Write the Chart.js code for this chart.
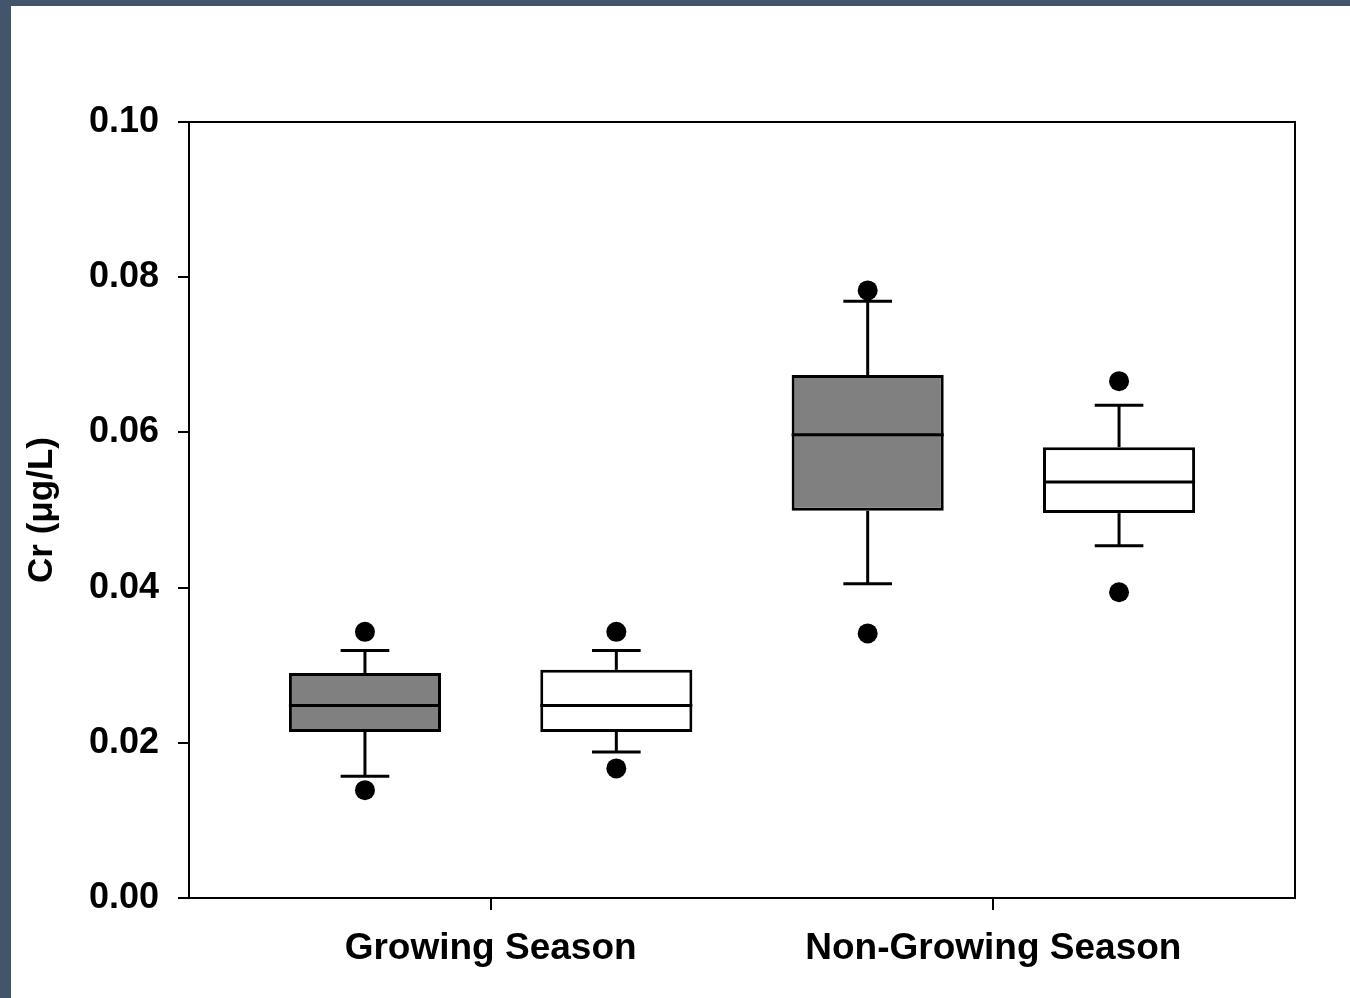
<!DOCTYPE html>
<html>
<head>
<meta charset="utf-8">
<script src="https://cdn.jsdelivr.net/npm/chart.js@4"></script>
<style>
  html, body { margin: 0; padding: 0; width: 1350px; height: 998px; overflow: hidden; background: #44546a; }
  #wrap { position: absolute; left: 11px; top: 6px; width: 1339px; height: 992px; background: #ffffff; }
  canvas { display: block; }
</style>
</head>
<body>
<div id="wrap"><canvas id="c" width="1339" height="992"></canvas></div>
<script>
// ---- data ----
const categories = ['Growing Season', 'Non-Growing Season'];
const categoryPositions = [1, 2];
const yTicks = [0, 0.02, 0.04, 0.06, 0.08, 0.10];

// gray boxes
const grayQ1 = [0.0214, 0.0499];
const grayQ3 = [0.0290, 0.0674];
const grayMedian = [0.0248, 0.0597];
const grayWhiskerLow = [0.0157, 0.0405];
const grayWhiskerHigh = [0.0319, 0.0769];
const grayOutliers = [[0.0343, 0.0139], [0.0783, 0.0341]];

// white boxes
const whiteQ1 = [0.0214, 0.0496];
const whiteQ3 = [0.0294, 0.0581];
const whiteMedian = [0.0248, 0.0536];
const whiteWhiskerLow = [0.0188, 0.0454];
const whiteWhiskerHigh = [0.0319, 0.0635];
const whiteOutliers = [[0.0343, 0.0167], [0.0666, 0.0394]];

// ---- build ----
const GROUP_OFFSET = 0.25;
const grayX = categoryPositions.map(p => p - GROUP_OFFSET);
const whiteX = categoryPositions.map(p => p + GROUP_OFFSET);

const boxes = [
  { x: grayX, q1: grayQ1, q3: grayQ3, med: grayMedian, lo: grayWhiskerLow, hi: grayWhiskerHigh, out: grayOutliers },
  { x: whiteX, q1: whiteQ1, q3: whiteQ3, med: whiteMedian, lo: whiteWhiskerLow, hi: whiteWhiskerHigh, out: whiteOutliers }
];

const outlierPoints = [];
boxes.forEach(b => b.out.forEach((vals, i) => vals.forEach(v => outlierPoints.push({ x: b.x[i], y: v }))));

const FONT = '"Liberation Sans", Arial, sans-serif';

function line(ctx, x1, y1, x2, y2) {
  ctx.beginPath(); ctx.moveTo(x1, y1); ctx.lineTo(x2, y2); ctx.stroke();
}

const boxPartsPlugin = {
  id: 'boxParts',
  beforeDatasetsDraw(chart) {
    const ctx = chart.ctx, ys = chart.scales.y;
    ctx.save();
    ctx.strokeStyle = '#000'; ctx.lineWidth = 3; ctx.lineCap = 'butt';
    [1, 2].forEach((di, k) => {
      const meta = chart.getDatasetMeta(di);
      const b = boxes[k];
      meta.data.forEach((bar, i) => {
        const cx = bar.x, capHalf = bar.width * 0.16;
        const yHi = ys.getPixelForValue(b.hi[i]);
        const yLo = ys.getPixelForValue(b.lo[i]);
        line(ctx, cx, ys.getPixelForValue(b.q3[i]), cx, yHi);
        line(ctx, cx - capHalf, yHi, cx + capHalf, yHi);
        line(ctx, cx, ys.getPixelForValue(b.q1[i]), cx, yLo);
        line(ctx, cx - capHalf, yLo, cx + capHalf, yLo);
      });
    });
    ctx.restore();
  },
  afterDatasetDraw(chart, args) {
    if (args.index !== 1 && args.index !== 2) return;
    const ctx = chart.ctx, ys = chart.scales.y;
    const b = boxes[args.index - 1];
    ctx.save();
    ctx.strokeStyle = '#000'; ctx.lineWidth = 3;
    args.meta.data.forEach((bar, i) => {
      const y = ys.getPixelForValue(b.med[i]);
      line(ctx, bar.x - bar.width / 2, y, bar.x + bar.width / 2, y);
    });
    ctx.restore();
  },
  afterDraw(chart) {
    const { left, top, right, bottom } = chart.chartArea;
    const ctx = chart.ctx;
    ctx.save();
    ctx.strokeStyle = '#000'; ctx.lineWidth = 2;
    ctx.strokeRect(left, top, right - left, bottom - top);
    ctx.restore();
  }
};

new Chart(document.getElementById('c'), {
  data: {
    datasets: [
      {
        type: 'scatter',
        data: outlierPoints,
        backgroundColor: '#000',
        borderWidth: 0,
        pointRadius: 10,
        pointHoverRadius: 10
      },
      {
        type: 'bar',
        data: grayX.map((x, i) => ({ x: x, y: [grayQ1[i], grayQ3[i]] })),
        backgroundColor: '#808080',
        borderColor: '#000',
        borderWidth: 3,
        borderSkipped: false,
        grouped: false,
        categoryPercentage: 1,
        barPercentage: 0.605
      },
      {
        type: 'bar',
        data: whiteX.map((x, i) => ({ x: x, y: [whiteQ1[i], whiteQ3[i]] })),
        backgroundColor: '#ffffff',
        borderColor: '#000',
        borderWidth: 3,
        borderSkipped: false,
        grouped: false,
        categoryPercentage: 1,
        barPercentage: 0.605
      }
    ]
  },
  options: {
    responsive: false,
    animation: false,
    events: [],
    layout: { padding: { left: 0, top: 116, right: 55, bottom: 0 } },
    plugins: { legend: { display: false }, tooltip: { enabled: false } },
    scales: {
      x: {
        type: 'linear',
        min: 0.4,
        max: 2.6,
        offset: false,
        afterBuildTicks(scale) { scale.ticks = categoryPositions.map(v => ({ value: v })); },
        afterFit(scale) { scale.height = 100; },
        border: { display: true, color: '#000', width: 2 },
        grid: { offset: false, drawOnChartArea: false, drawTicks: true, tickLength: 12, color: '#000', lineWidth: 2 },
        ticks: {
          autoSkip: false,
          maxRotation: 0,
          padding: 17,
          color: '#000',
          font: { family: FONT, size: 37, weight: 'bold' },
          callback: (v) => categories[categoryPositions.indexOf(v)]
        }
      },
      y: {
        type: 'linear',
        min: 0,
        max: 0.1,
        afterBuildTicks(scale) { scale.ticks = yTicks.map(v => ({ value: v })); },
        afterFit(scale) { scale.width = 178; },
        border: { display: true, color: '#000', width: 2 },
        grid: { drawOnChartArea: false, drawTicks: true, tickLength: 11, color: '#000', lineWidth: 2 },
        ticks: {
          padding: 19,
          color: '#000',
          font: { family: FONT, size: 36, weight: 'bold' },
          callback: (v) => Number(v).toFixed(2)
        },
        title: {
          display: true,
          text: 'Cr (\u03BCg/L)',
          color: '#000',
          padding: { top: 10, bottom: 0 },
          font: { family: FONT, size: 35, weight: 'bold' }
        }
      }
    }
  },
  plugins: [boxPartsPlugin]
});
</script>
</body>
</html>
